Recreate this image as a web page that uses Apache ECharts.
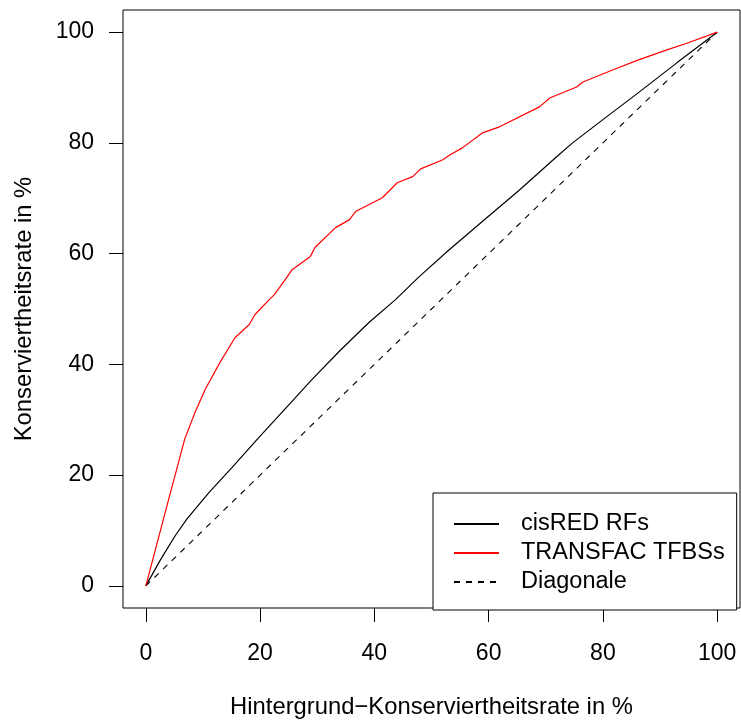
<!DOCTYPE html>
<html>
<head>
<meta charset="utf-8">
<script src="https://cdn.jsdelivr.net/npm/echarts@6/dist/echarts.min.js"></script>
<style>
  html, body { margin: 0; padding: 0; background: #fff; }
  #chart { width: 741px; height: 726px; }
</style>
</head>
<body>
<div id="chart"></div>
<script>
// Conservation rate (%) vs. background conservation rate (%)
const tickValues = [0, 20, 40, 60, 80, 100];

const cisredPts = [
  [0, 0], [2.5, 4.6], [5.1, 9.0], [7.2, 12.1], [11, 16.8], [15.1, 21.4],
  [19.8, 26.8], [24.5, 32.1], [29.1, 37.3], [34, 42.5], [39.1, 47.6],
  [43.7, 51.7], [47.9, 55.9], [53, 60.6], [59, 65.9], [65.4, 71.5],
  [71.9, 77.5], [74.7, 80.0], [80, 84.2], [86, 88.9], [93, 94.5], [100, 100]
];

const transfacPts = [
  [0, 0], [3.4, 13.3], [6.8, 26.5], [8.6, 31.3], [10.4, 35.5], [13, 40.4],
  [15.6, 44.8], [18.1, 47.2], [19.1, 49.0], [21.6, 51.7], [22.5, 52.6],
  [24.4, 55.3], [25.6, 57.1], [28.8, 59.5], [29.6, 61.1], [33.2, 64.7],
  [35.6, 66.1], [36.7, 67.6], [41.4, 70.1], [44, 72.8], [46.7, 73.9],
  [48.1, 75.3], [51.9, 76.9], [53.2, 77.8], [55.4, 79.1], [58.9, 81.8],
  [61.9, 82.9], [68.9, 86.5], [70.7, 88.1], [75.4, 90.1], [76.5, 91.0],
  [81.8, 93.2], [86, 94.9], [91.2, 96.8], [94.7, 98.0], [100, 100]
];

const diagonalPts = [[0, 0], [100, 100]];

const FONT = '"Liberation Sans", Arial, Helvetica, sans-serif';

const chart = echarts.init(document.getElementById('chart'), null, { renderer: 'canvas' });

const axisCommon = {
  type: 'value',
  min: -4,
  max: 104,
  axisLine: { show: false, onZero: false },
  splitLine: { show: false },
  axisTick: {
    show: true,
    inside: false,
    length: 14,
    customValues: tickValues,
    lineStyle: { color: '#000', width: 1 }
  },
  axisLabel: {
    show: true,
    customValues: tickValues,
    color: '#000',
    fontFamily: FONT,
    fontSize: 23
  }
};

chart.setOption({
  animation: false,
  backgroundColor: '#fff',
  grid: {
    left: 123, top: 10, right: 1, bottom: 118,
    show: true,
    borderColor: '#000',
    borderWidth: 1,
    backgroundColor: 'transparent'
  },
  xAxis: Object.assign({}, axisCommon, {
    axisLabel: Object.assign({}, axisCommon.axisLabel, { margin: 34 })
  }),
  yAxis: Object.assign({}, axisCommon, {
    axisLabel: Object.assign({}, axisCommon.axisLabel, { margin: 29 })
  }),
  legend: {
    orient: 'vertical',
    left: 433,
    top: 493,
    padding: [19, 12, 16, 20],
    itemWidth: 45,
    itemHeight: 14,
    itemGap: 5,
    borderColor: '#000',
    borderWidth: 1,
    borderRadius: 0,
    backgroundColor: '#fff',
    itemStyle: { opacity: 0 },
    textStyle: {
      color: '#000',
      fontFamily: FONT,
      fontSize: 23.5,
      lineHeight: 24,
      padding: [0, 0, 0, 17]
    },
    data: ['cisRED RFs', 'TRANSFAC TFBSs', 'Diagonale']
  },
  graphic: [
    {
      type: 'text',
      x: 431.5, y: 707,
      style: {
        text: 'Hintergrund\u2212Konserviertheitsrate in %',
        font: '23.8px ' + FONT,
        fill: '#000',
        align: 'center',
        verticalAlign: 'middle'
      }
    },
    {
      type: 'text',
      x: 24, y: 309,
      rotation: Math.PI / 2,
      style: {
        text: 'Konserviertheitsrate in %',
        font: '23.8px ' + FONT,
        fill: '#000',
        align: 'center',
        verticalAlign: 'middle'
      }
    }
  ],
  series: [
    {
      name: 'cisRED RFs',
      type: 'line',
      data: cisredPts,
      symbol: 'none',
      lineStyle: { color: '#000', width: 1.2 },
      itemStyle: { color: '#000' },
      z: 3
    },
    {
      name: 'TRANSFAC TFBSs',
      type: 'line',
      data: transfacPts,
      symbol: 'none',
      lineStyle: { color: '#ff0000', width: 1.2 },
      itemStyle: { color: '#ff0000' },
      z: 4
    },
    {
      name: 'Diagonale',
      type: 'line',
      data: diagonalPts,
      symbol: 'none',
      lineStyle: { color: '#000', width: 1.1, type: [6, 6] },
      itemStyle: { color: '#000' },
      z: 2
    }
  ]
});
</script>
</body>
</html>
